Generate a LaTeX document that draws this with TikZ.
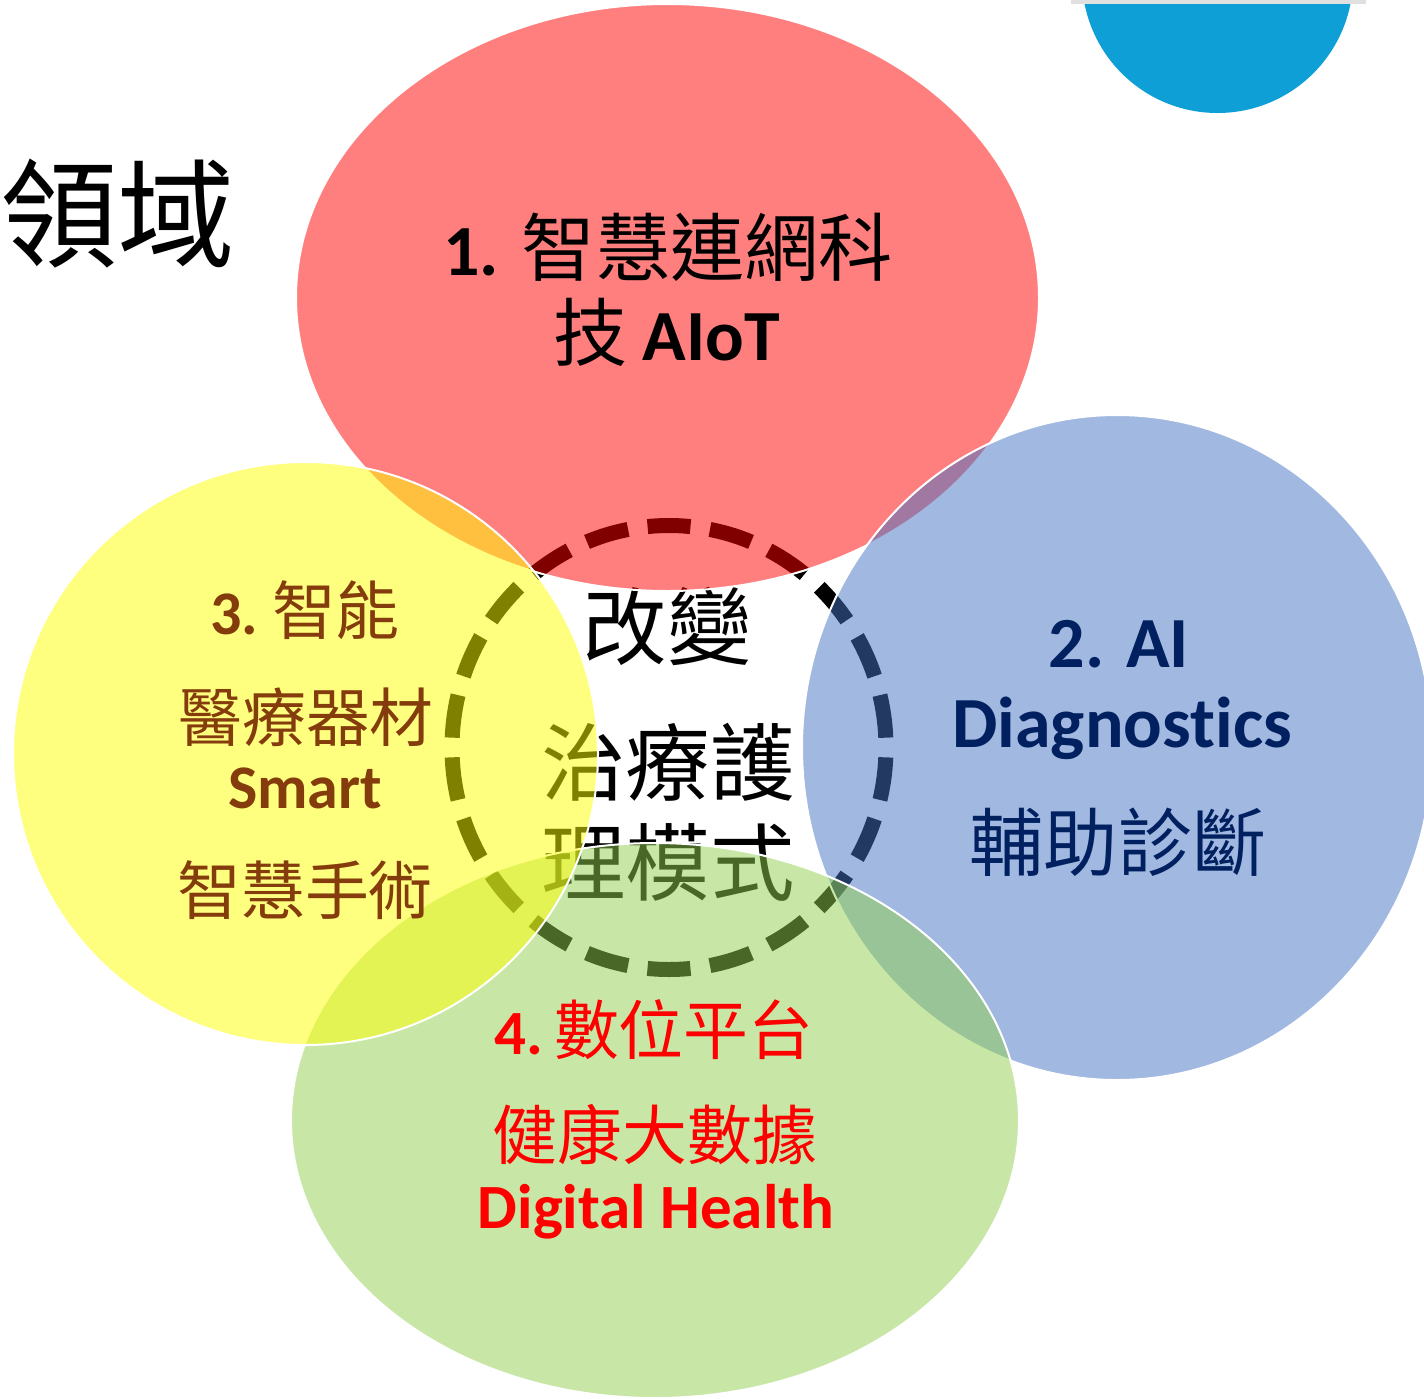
\documentclass[tikz,border=0pt]{standalone}
\usepackage{fontspec}
\newfontfamily\mylatf{Carlito}[Ligatures=NoCommon]
\newfontfamily\mycjkf{Noto Sans CJK TC}[Scale=1.03]
\newcommand{\Lb}[1]{{\mylatf\bfseries #1}}
\newcommand{\Cj}[1]{{\mycjkf #1}}
\definecolor{cred}{HTML}{FF0000}
\definecolor{cblue}{HTML}{4472C4}
\definecolor{cyel}{HTML}{FFFF00}
\definecolor{cgreen}{HTML}{92D050}
\definecolor{ctop}{HTML}{0F9FD7}
\definecolor{tnavy}{HTML}{002060}
\definecolor{tbrown}{HTML}{843C0C}
\definecolor{tred}{HTML}{FF0000}
\tikzset{
  bubble/.style={fill opacity=0.5, draw=white, draw opacity=1, line width=2pt},
  lbl/.style={anchor=base, inner sep=0pt},
  sz/.style={font=\fontsize{#1}{#1}\selectfont},
  ring/.style={draw=black, line width=15pt, dash pattern=on 43pt off 19.7pt, dash phase=21.5pt}
}
\begin{document}
\begin{tikzpicture}[x=1pt,y=-1pt]
\useasboundingbox (0,0) rectangle (1424,1398);
\fill[white] (0,0) rectangle (1424,1398);
% top-right circle
\fill[ctop] (1217.5,-22.5) circle[radius=135.5];
\fill[black!12] (1071,0) rectangle (1366,4);
% title
\node[lbl, anchor=base west, sz=114] (title) at (0,258) {\Cj{領域}};
% central dashed ring and text (under the bubbles)
\draw[ring] (669,747.5) ++(0,-222) arc[start angle=-90, end angle=270, x radius=217, y radius=222];
\node[lbl, sz=82] (c1) at (667,658) {\Cj{改變}};
\node[lbl, sz=82] (c2) at (668,794) {\Cj{治療護}};
\node[lbl, sz=82] (c3) at (668,894) {\Cj{理模式}};
% bubbles
\path[bubble, fill=cred] (667.5,297.5) ellipse[x radius=371.5, y radius=293.5];
\path[bubble, fill=cblue] (1117,747.5) ellipse[x radius=315, y radius=332.5];
\path[bubble, fill=cgreen] (655,1120.5) ellipse[x radius=364, y radius=277.5];
\path[bubble, fill=cyel] (305.5,753.5) ellipse[x radius=292.5, y radius=291.5];
% red labels
\node[lbl, sz=72, text=black] (r1) at (668,275) {\Lb{1.}\hspace{23pt}\Cj{智慧連網科}};
\node[lbl, sz=72, text=black] (r2) at (667,360) {\Cj{技}\hspace{15pt}\Lb{AIoT}};
% blue labels
\node[lbl, sz=72, text=tnavy] (b1) at (1119,667) {\Lb{2. AI}};
\node[lbl, sz=72, text=tnavy] (b2) at (1122,747) {\Lb{Diagnostics}};
\node[lbl, sz=72, text=tnavy] (b3) at (1118,870) {\Cj{輔助診斷}};
% yellow labels
\node[lbl, sz=62, text=tbrown] (y1) at (305,634) {\Lb{3.}\hspace{14pt}\Cj{智能}};
\node[lbl, sz=62, text=tbrown] (y2) at (306,741) {\Cj{醫療器材}};
\node[lbl, sz=62, text=tbrown] (y3) at (305,808) {\Lb{Smart}};
\node[lbl, sz=62, text=tbrown] (y4) at (305,914) {\Cj{智慧手術}};
% green labels
\node[lbl, sz=63, text=tred] (g1) at (654,1054) {\Lb{4.}\hspace{11pt}\Cj{數位平台}};
\node[lbl, sz=63, text=tred] (g2) at (655,1159) {\Cj{健康大數據}};
\node[lbl, sz=63, text=tred] (g3) at (656,1228) {\Lb{Digital Health}};
\end{tikzpicture}
\end{document}
